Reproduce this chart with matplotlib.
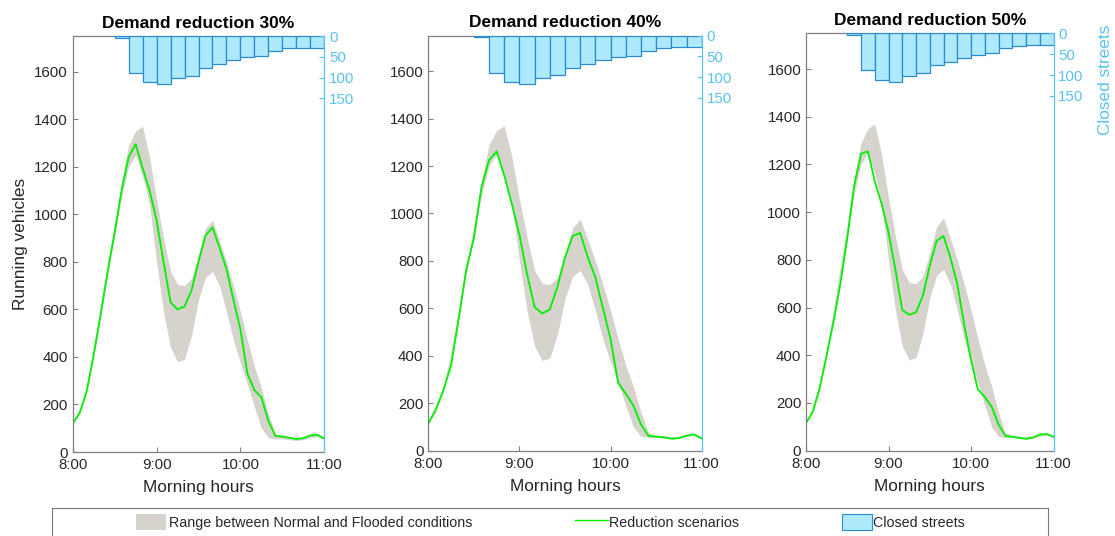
import matplotlib
matplotlib.use("Agg")
import matplotlib.pyplot as plt
import numpy as np
from matplotlib.patches import Patch
from matplotlib.lines import Line2D

plt.rcParams["font.family"] = ["Liberation Sans", "DejaVu Sans"]

# Time axis: minutes after 8:00, sampled every 5 minutes
minutes = np.arange(0, 181, 5)

# Running vehicles range between normal and flooded conditions
flood_low = [118, 160, 252, 395, 565, 740, 905, 1075, 1200, 1250, 1160, 1040,
             800, 590, 440, 380, 390, 490, 640, 735, 760, 700, 590, 470,
             375, 285, 190, 100, 60, 55, 55, 52, 48, 52, 60, 65, 52]
flood_high = [125, 172, 268, 420, 595, 775, 950, 1140, 1290, 1350, 1370, 1240,
              1060, 900, 760, 705, 700, 730, 830, 940, 975, 890, 800, 700,
              590, 470, 360, 270, 160, 75, 65, 60, 56, 60, 70, 72, 60]

# Running vehicles under each demand reduction scenario
reduction_30 = [120, 165, 255, 410, 580, 760, 925, 1100, 1240, 1295, 1195, 1100,
                975, 800, 630, 600, 612, 680, 800, 910, 945, 860, 770, 640,
                515, 330, 260, 230, 130, 68, 65, 60, 55, 58, 70, 72, 57]
reduction_40 = [113, 175, 255, 360, 555, 765, 895, 1110, 1225, 1262, 1160, 1040,
                910, 745, 605, 578, 595, 690, 815, 905, 918, 815, 730, 600,
                470, 285, 240, 190, 110, 62, 58, 56, 50, 52, 62, 68, 50]
reduction_50 = [115, 165, 265, 400, 540, 700, 890, 1110, 1245, 1255, 1130, 1035,
                915, 760, 590, 570, 580, 650, 775, 880, 900, 810, 700, 530,
                380, 257, 225, 185, 110, 62, 58, 54, 50, 55, 68, 70, 59]
scenarios = [reduction_30, reduction_40, reduction_50]
titles = ["Demand reduction 30%", "Demand reduction 40%", "Demand reduction 50%"]

# Closed streets per 10-minute interval, starting at 8:30
closed_start = [30, 40, 50, 60, 70, 80, 90, 100, 110, 120, 130, 140, 150, 160, 170]
closed_streets = [4, 89, 111, 116, 102, 95, 77, 68, 58, 51, 48, 36, 30, 28, 28]

hour_ticks = [0, 60, 120, 180]
hour_labels = ["8:00", "9:00", "10:00", "11:00"]
vehicle_ticks = [0, 200, 400, 600, 800, 1000, 1200, 1400, 1600]
street_ticks = [0, 50, 100, 150]

BAND = "#D6D2CC"
GREEN = "#00F000"
BAR_FACE = "#AEE9FC"
BAR_EDGE = "#2A8BD0"
BLUE = "#5BC2EE"
SPINE = "#808080"
TEXT = "#262626"

W, H = 1115, 536
fig = plt.figure(figsize=(W / 100, H / 100), dpi=100)

# panel boxes in pixels: left, top, right, bottom
boxes = [(72.7, 36.0, 324.3, 452.0),
         (428.3, 35.7, 701.7, 450.5),
         (806.0, 33.3, 1053.5, 450.7)]

for i, (l, t, r, b) in enumerate(boxes):
    ax = fig.add_axes([l / W, (H - b) / H, (r - l) / W, (b - t) / H])
    ax.fill_between(minutes, flood_low, flood_high, color=BAND, lw=0)
    ax.plot(minutes, scenarios[i], color=GREEN, lw=1.3)
    ax.set_xlim(0, 180)
    ax.set_ylim(0, 1750)
    ax.set_xticks(hour_ticks, hour_labels)
    ax.set_yticks(vehicle_ticks)
    ax.tick_params(direction="in", length=3.5, width=0.8, labelsize=10.8,
                   color=SPINE, labelcolor=TEXT)
    ax.tick_params(axis="x", pad=4.6)
    for side in ("left", "bottom", "top"):
        ax.spines[side].set_color(SPINE)
        ax.spines[side].set_linewidth(0.9)
    ax.spines["right"].set_visible(False)
    ax.set_xlabel("Morning hours", fontsize=12.4, color=TEXT, labelpad=5.5)
    if i == 0:
        ax.set_ylabel("Running vehicles", fontsize=12.4, color=TEXT)
    ax.set_title(titles[i], fontsize=12.5, fontweight="bold", color="black")

    ax2 = ax.twinx()
    ax2.bar(closed_start, closed_streets, width=10, align="edge",
            color=BAR_FACE, edgecolor=BAR_EDGE, lw=0.9)
    ax2.set_ylim(1000, 0)
    ax2.set_yticks(street_ticks)
    ax2.tick_params(axis="y", direction="in", length=3.5, width=0.8,
                    labelsize=10.8, color=BLUE, labelcolor=BLUE)
    for side in ("left", "bottom", "top"):
        ax2.spines[side].set_visible(False)
    ax2.spines["right"].set_color(BLUE)
    ax2.spines["right"].set_linewidth(0.9)
    if i == 2:
        ax2.set_ylabel("Closed streets", fontsize=12.4, color=BLUE)
        ax2.yaxis.set_label_coords(1.178, 0.888)

# Legend frame along the bottom
leg_ax = fig.add_axes([52.3 / W, (H - 537) / H, (1048.3 - 52.3) / W, 29 / H])
leg_ax.set_xticks([])
leg_ax.set_yticks([])
for s in leg_ax.spines.values():
    s.set_color("#777777")
    s.set_linewidth(0.8)
leg_ax.patch.set_alpha(0)

yc = (H - 522) / H
entries = [
    (Patch(facecolor=BAND, edgecolor="none"),
     "Range between Normal and Flooded conditions", 136, 2.1, 0.23),
    (Line2D([], [], color=GREEN, lw=1.0),
     "Reduction scenarios", 575, 2.3, 0.08),
    (Patch(facecolor=BAR_FACE, edgecolor=BAR_EDGE, lw=0.8),
     "Closed streets", 842, 2.1, 0.1),
]
for handle, label, x0, hl, pad in entries:
    fig.legend([handle], [label], loc="center left",
               bbox_to_anchor=(x0 / W, yc), frameon=False,
               fontsize=10.3, handlelength=hl, handleheight=1.3,
               handletextpad=pad, borderpad=0, borderaxespad=0,
               labelcolor=TEXT)

fig.savefig("out.png", dpi=100)
